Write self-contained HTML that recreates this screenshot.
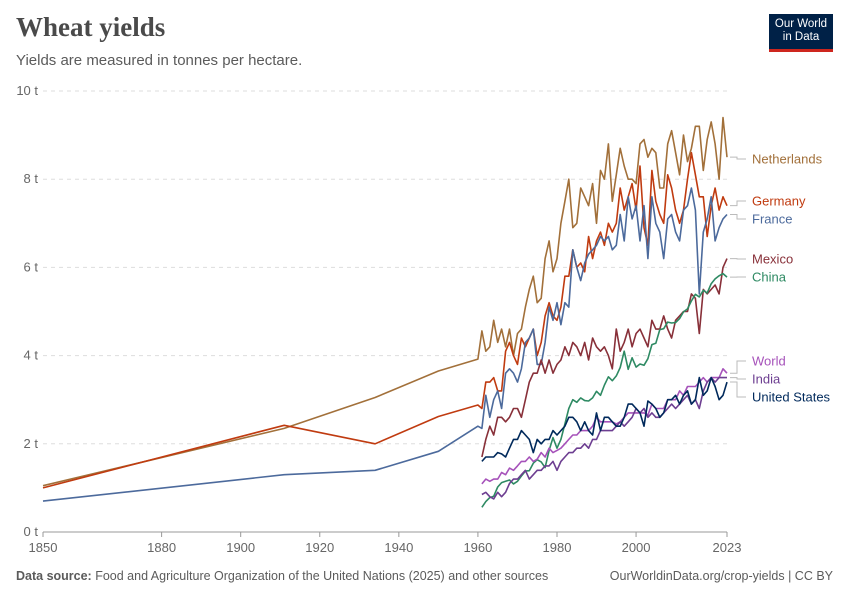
<!DOCTYPE html>
<html><head><meta charset="utf-8"><style>
body{margin:0;background:#fff;font-family:"Liberation Sans",sans-serif;}
#wrap{position:relative;width:850px;height:600px;overflow:hidden;}
.title{position:absolute;left:16px;top:12px;font-family:"Liberation Serif",serif;font-weight:bold;font-size:27px;color:#4a4a4a;margin:0;}
.sub{position:absolute;left:16px;top:52px;font-size:15px;color:#5b5b5b;}
.logo{position:absolute;left:769px;top:14px;width:64px;height:38px;background:#002147;color:#fff;font-size:11.5px;line-height:13px;text-align:center;padding-top:4px;box-sizing:border-box;border-bottom:3px solid #ce261e;}
.foot{position:absolute;top:569px;font-size:12.5px;color:#5b5b5b;}
</style></head><body>
<div id="wrap">
<h1 class="title">Wheat yields</h1>
<div class="sub">Yields are measured in tonnes per hectare.</div>
<div class="logo">Our World<br>in Data</div>
<svg id="chart" width="850" height="600" style="position:absolute;left:0;top:0"></svg>
<div class="foot" style="left:16px"><b>Data source:</b> Food and Agriculture Organization of the United Nations (2025) and other sources</div>
<div class="foot" style="right:17px">OurWorldinData.org/crop-yields | CC BY</div>
</div>
<script>
const yTicks=[0,2,4,6,8,10];
const xTicks=[1850,1880,1900,1920,1940,1960,1980,2000,2023];
const names=["Netherlands","Germany","France","Mexico","China","World","India","United States"];
const colors=["#a2703a","#c03b10","#4c6a9c","#883039","#2e8a63","#a652ba","#6d3e91","#00295b"];
const labelY=[159,201,219,259,277,361,379,397];
const earlyYears=[1850,1911,1934,1950,1960];
const nlEarly=[1.05,2.35,3.05,3.65,3.92];
const deEarly=[1.0,2.42,2.0,2.62,2.88];
const frEarly=[0.7,1.3,1.4,1.83,2.4];
const startYear=1961;
const nl=[4.56,4.1,4.2,4.8,4.3,4.6,4.2,4.6,4.0,4.5,4.6,5.1,5.5,5.8,5.2,5.3,6.2,6.6,5.9,6.2,7.0,7.5,8.0,6.9,7.0,7.8,7.6,7.4,7.9,7.0,8.2,8.0,8.8,7.5,8.1,8.7,8.3,8.0,8.0,7.9,8.8,8.9,8.5,8.7,8.6,7.8,7.8,8.8,9.1,8.6,8.1,9.0,8.4,8.7,9.2,9.2,8.2,8.9,9.3,8.8,8.0,9.4,8.5];
const de=[2.8,3.4,3.4,3.5,3.2,3.2,4.1,4.3,4.0,3.8,4.4,4.2,4.4,4.6,4.0,4.3,4.9,5.2,4.9,4.8,5.1,5.8,5.8,6.4,6.0,6.1,5.9,6.7,6.2,6.6,6.8,6.5,7.0,6.8,7.0,7.8,7.3,7.6,7.9,7.3,8.3,6.9,6.5,8.2,7.5,7.2,7.0,8.1,7.8,7.3,7.0,7.3,8.0,8.6,8.1,7.6,7.6,6.7,7.4,7.8,7.3,7.6,7.4];
const fr=[2.35,3.1,2.6,3.0,3.2,2.8,3.6,3.7,3.6,3.4,3.7,4.3,4.4,4.6,3.8,3.8,4.3,5.1,4.8,5.2,4.7,5.2,5.1,6.4,6.0,5.7,6.1,6.3,6.4,6.5,6.7,6.6,6.7,6.4,6.5,7.2,6.6,7.6,7.1,7.4,6.6,7.4,6.2,7.6,7.0,6.8,6.2,7.1,7.2,6.8,6.6,7.3,7.4,7.8,7.3,5.4,6.8,7.1,7.6,6.6,6.9,7.1,7.2];
const mx=[1.7,2.1,2.4,2.2,2.6,2.6,2.5,2.6,2.8,2.8,2.6,3.0,3.4,3.6,3.6,3.9,3.6,3.9,3.6,3.8,3.9,4.2,4.0,4.3,4.2,4.0,4.3,3.9,4.4,4.2,4.1,4.2,4.0,3.7,4.6,4.1,4.3,4.6,4.2,4.5,4.6,4.4,4.2,4.8,4.6,4.6,4.9,4.6,4.4,4.8,4.9,5.0,5.0,5.4,5.3,4.5,5.5,5.4,5.5,5.6,5.4,6.0,6.2];
const cn=[0.56,0.69,0.78,0.81,1.02,1.12,1.15,1.18,1.09,1.15,1.27,1.38,1.39,1.56,1.64,1.59,1.46,1.85,2.14,1.9,2.1,2.45,2.8,3.0,2.94,3.04,2.98,2.97,3.04,3.19,3.1,3.33,3.52,3.43,3.54,3.73,4.1,3.69,3.95,3.74,3.81,3.78,3.93,4.25,4.28,4.59,4.61,4.76,4.74,4.75,4.84,4.99,5.06,5.24,5.39,5.33,5.48,5.42,5.63,5.74,5.81,5.86,5.78];
const wd=[1.09,1.2,1.15,1.2,1.2,1.35,1.3,1.45,1.4,1.5,1.6,1.6,1.7,1.6,1.65,1.8,1.7,1.9,1.8,1.85,1.9,2.0,2.1,2.2,2.2,2.3,2.3,2.3,2.4,2.6,2.5,2.5,2.5,2.5,2.45,2.5,2.6,2.7,2.7,2.7,2.7,2.7,2.65,2.9,2.8,2.8,2.8,3.0,3.0,3.0,3.2,3.1,3.3,3.3,3.3,3.4,3.5,3.4,3.5,3.5,3.5,3.7,3.6];
const ind=[0.85,0.9,0.8,0.75,0.9,0.8,0.9,1.1,1.2,1.2,1.3,1.4,1.2,1.3,1.4,1.4,1.5,1.5,1.6,1.4,1.6,1.7,1.8,1.8,1.9,1.9,2.0,1.9,2.1,2.1,2.3,2.3,2.3,2.3,2.4,2.5,2.4,2.5,2.6,2.8,2.7,2.8,2.6,2.7,2.6,2.6,2.7,2.8,2.9,2.8,2.9,3.0,3.1,2.9,3.0,2.8,3.2,3.4,3.5,3.4,3.5,3.5,3.5];
const us=[1.6,1.7,1.7,1.7,1.8,1.77,1.7,1.9,2.1,2.1,2.3,2.2,2.1,1.8,2.1,2.0,2.1,2.1,2.3,2.2,2.3,2.4,2.6,2.6,2.5,2.3,2.5,2.3,2.2,2.7,2.3,2.6,2.6,2.5,2.4,2.4,2.6,2.9,2.9,2.8,2.7,2.4,2.97,2.9,2.8,2.6,2.7,3.0,3.0,3.1,2.9,3.1,3.2,2.9,3.0,3.5,3.1,3.2,3.5,3.3,3.0,3.1,3.4];

const X0=43,X1=727,Y0=532,Y1=91;
function xs(y){return X0+(y-1850)/(2023-1850)*(X1-X0);}
function ys(v){return Y0-v/10*(Y0-Y1);}
const svg=document.getElementById('chart');
const NS='http://www.w3.org/2000/svg';
function mk(t,a){const e=document.createElementNS(NS,t);for(const k in a)e.setAttribute(k,a[k]);svg.appendChild(e);return e;}

yTicks.forEach(v=>{
  if(v>0){const g=mk('line',{x1:X0,x2:X1,y1:ys(v),y2:ys(v),stroke:'#ddd','stroke-dasharray':'4,4'});
  
  }
  const t=mk('text',{x:38,y:ys(v)+4,'text-anchor':'end','font-size':13,fill:'#666'});
  t.textContent=v+' t';
  
  
});
const ax=mk('line',{x1:X0,x2:X1,y1:Y0,y2:Y0,stroke:'#999'});


xTicks.forEach(v=>{
  const tk=mk('line',{x1:xs(v),x2:xs(v),y1:Y0,y2:Y0+5,stroke:'#999'});
  
  
  const t=mk('text',{x:xs(v),y:552,'text-anchor':'middle','font-size':13,fill:'#666'});
  t.textContent=v;
  
  
});
const series=[nl,de,fr,mx,cn,wd,ind,us];
const early=[nlEarly,deEarly,frEarly];
series.forEach((s,i)=>{
  let pts=[];
  if(i<3) early[i].forEach((v,j)=>pts.push([xs(earlyYears[j]),ys(v)]));
  s.forEach((v,j)=>pts.push([xs(startYear+j),ys(v)]));
  const p=mk('polyline',{points:pts.map(p=>p[0].toFixed(1)+','+p[1].toFixed(1)).join(' '),fill:'none',stroke:colors[i],'stroke-width':1.6,'stroke-linejoin':'round'});
  
  
  const last=pts[pts.length-1];
  const c=mk('polyline',{points:`${last[0]+3},${last[1]} 737,${last[1]} 737,${labelY[i]} 746,${labelY[i]}`,fill:'none',stroke:'#bbb','stroke-width':1});
  
  
  const t=mk('text',{x:752,y:labelY[i]+4.5,'font-size':13,fill:colors[i]});
  t.textContent=names[i];
  
  
});
</script>
</body></html>
